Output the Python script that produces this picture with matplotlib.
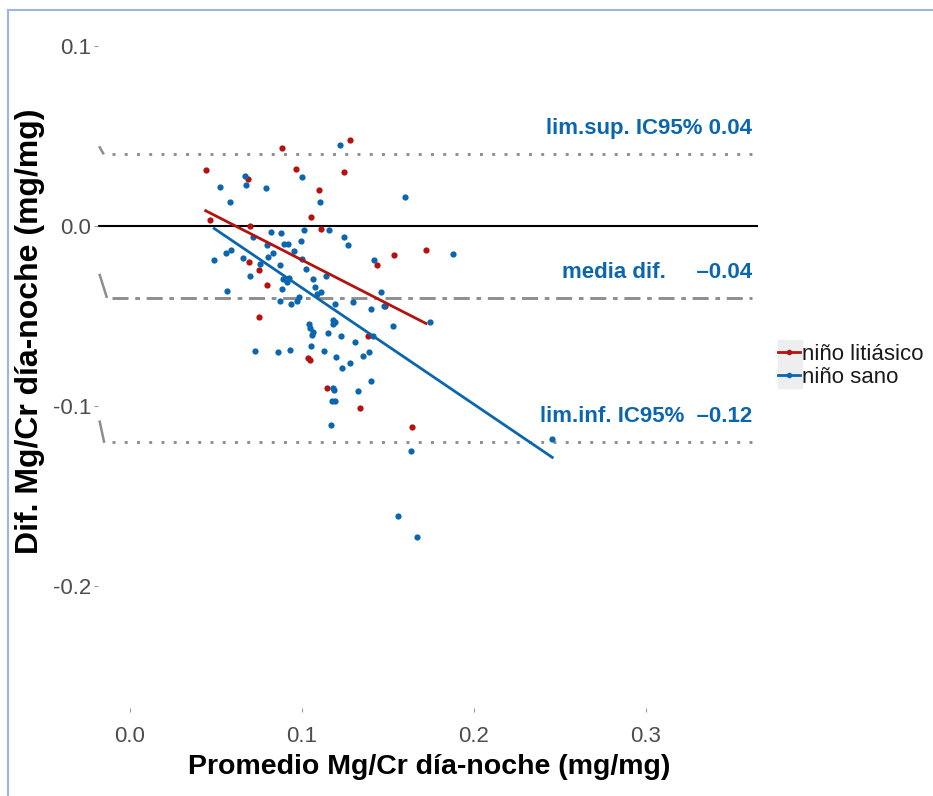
import matplotlib
matplotlib.use("Agg")
import matplotlib.pyplot as plt
import numpy as np
from matplotlib.lines import Line2D
from matplotlib.patches import Rectangle

plt.rcParams['font.family'] = ['Liberation Sans', 'DejaVu Sans']

RED = "#B5120F"
BLUE = "#0A66AE"
GREY = "#8E8E8E"

groups = ["niño litiásico", "niño sano"]

# niño litiásico: promedio (x) vs diferencia (y)
lit_x = [0.0885, 0.1279, 0.0440, 0.0688, 0.0965, 0.1244, 0.1099, 0.0467, 0.0698,
         0.1052, 0.1110, 0.0692, 0.0750, 0.0795, 0.0750, 0.1436, 0.1537, 0.1721,
         0.1481, 0.1033, 0.1048, 0.1145, 0.1339, 0.1640, 0.1384]
lit_y = [0.0432, 0.0476, 0.0311, 0.0259, 0.0317, 0.0300, 0.0200, 0.0033, 0.0000,
         0.0048, -0.0017, -0.0200, -0.0244, -0.0328, -0.0504, -0.0217, -0.0161, -0.0133,
         -0.0444, -0.0732, -0.0746, -0.0902, -0.1013, -0.1118, -0.0611]

# niño sano
sano_x = [0.1223, 0.0670, 0.0676, 0.0525, 0.0791, 0.1002, 0.0583, 0.1105, 0.1599,
          0.1012, 0.1159, 0.0715, 0.0822, 0.0880, 0.1244, 0.1269, 0.0795, 0.0897,
          0.0920, 0.0994, 0.0490, 0.0560, 0.0587, 0.0657, 0.0758, 0.0804, 0.0833,
          0.0955, 0.1002, 0.1023, 0.0874, 0.0698, 0.0888, 0.0915, 0.0926, 0.1064,
          0.1138, 0.1076, 0.0566, 0.0885, 0.1089, 0.1112, 0.1459, 0.1417, 0.0874,
          0.0938, 0.0973, 0.0983, 0.1192, 0.1298, 0.1401, 0.1477, 0.1178, 0.1744,
          0.1531, 0.1039, 0.1048, 0.1066, 0.1058, 0.1192, 0.1182, 0.1153, 0.1228,
          0.1308, 0.1413, 0.1052, 0.1128, 0.1199, 0.1234, 0.1279, 0.1355, 0.1390,
          0.0727, 0.0862, 0.0930, 0.1401, 0.1327, 0.1182, 0.1188, 0.1176, 0.1190,
          0.1170, 0.1634, 0.1560, 0.1669, 0.1880, 0.2455]
sano_y = [0.0448, 0.0278, 0.0228, 0.0217, 0.0211, 0.0272, 0.0133, 0.0133, 0.0161,
          -0.0022, -0.0022, -0.0059, -0.0033, -0.0039, -0.0061, -0.0106, -0.0106, -0.0100,
          -0.0100, -0.0083, -0.0189, -0.0150, -0.0133, -0.0178, -0.0211, -0.0172, -0.0150,
          -0.0139, -0.0183, -0.0239, -0.0217, -0.0278, -0.0294, -0.0311, -0.0289, -0.0294,
          -0.0276, -0.0337, -0.0361, -0.0350, -0.0376, -0.0367, -0.0367, -0.0189, -0.0415,
          -0.0433, -0.0418, -0.0393, -0.0433, -0.0422, -0.0459, -0.0444, -0.0522, -0.0533,
          -0.0556, -0.0543, -0.0565, -0.0589, -0.0604, -0.0533, -0.0544, -0.0594, -0.0611,
          -0.0644, -0.0611, -0.0667, -0.0694, -0.0728, -0.0787, -0.0763, -0.0722, -0.0700,
          -0.0694, -0.0700, -0.0689, -0.0863, -0.0918, -0.0902, -0.0913, -0.0974, -0.0974,
          -0.1107, -0.1252, -0.1611, -0.1728, -0.0157, -0.1185]

# linear fits per group: (intercept, slope)
fit_lit = (0.0300, -0.489)
fit_sano = (0.0303, -0.647)

# Bland-Altman limits
limit_vals = [0.04, -0.04, -0.12]
limit_styles = [(0, (1, 3.2)), (0, (5.5, 2.3, 1.6, 2.3)), (0, (1, 3.2))]
limit_labels = ["lim.sup. IC95% 0.04", "media dif.     \u20130.04", "lim.inf. IC95%  \u20130.12"]
label_y = [0.054, -0.026, -0.106]

# little hooks at the left end of each limit line
hook_x = [(-0.0176, -0.0156), (-0.0176, -0.0136), (-0.0176, -0.0151)]
hook_y = [(0.0437, 0.0404), (-0.0272, -0.0393), (-0.1087, -0.1198)]

fig = plt.figure(figsize=(9.33, 7.96), dpi=100)
ax = fig.add_axes([98 / 933, 1 - 708 / 796, 660 / 933, 696 / 796])
ax.set_xlim(-0.0186, 0.3651)
ax.set_ylim(-0.2678, 0.1189)
for s in ax.spines.values():
    s.set_visible(False)

ax.axhline(0, color="black", lw=1.5, zorder=1)
for v, ls in zip(limit_vals, limit_styles):
    ax.plot([-0.0105, 0.3616], [v, v], color=GREY, lw=2.1, linestyle=ls, zorder=1)
for hx, hy in zip(hook_x, hook_y):
    ax.plot(hx, hy, color=GREY, lw=1.8, zorder=1)
for v, txt in zip(label_y, limit_labels):
    ax.text(0.3616, v, txt, ha="right", va="center", color=BLUE,
            fontsize=16, fontweight="bold")

ax.plot(lit_x, lit_y, "o", color=RED, ms=4.5, mew=0, zorder=3)
ax.plot(sano_x, sano_y, "o", color=BLUE, ms=4.5, mew=0, zorder=3)

for xs, (a, b), c in [(lit_x, fit_lit, RED), (sano_x, fit_sano, BLUE)]:
    xx = np.linspace(min(xs), max(xs), 50)
    ax.plot(xx, a + b * xx, color=c, lw=2, zorder=4)

ax.set_xticks([0, 0.1, 0.2, 0.3])
ax.set_xticklabels(["0.0", "0.1", "0.2", "0.3"])
ax.set_yticks([0.1, 0, -0.1, -0.2])
ax.set_yticklabels(["0.1", "0.0", "-0.1", "-0.2"])
ax.tick_params(axis="both", colors="#999999", labelcolor="#4D4D4D",
               labelsize=16, length=3, width=0.8)
ax.tick_params(axis="x", pad=10)
ax.tick_params(axis="y", pad=2)

fig.text(429 / 933, 1 - 767 / 796, "Promedio Mg/Cr día-noche (mg/mg)",
         ha="center", va="center", fontsize=20.5, fontweight="bold")
fig.text(30 / 933, 1 - 331 / 796, "Dif. Mg/Cr día-noche (mg/mg)",
         ha="center", va="center", rotation=90, fontsize=23, fontweight="bold")

# legend with grey key background
fig.patches.append(Rectangle((778 / 933, 1 - 388 / 796), 24 / 933, 48 / 796,
                             transform=fig.transFigure, color="#EEEEEE", zorder=0))
handles = [Line2D([], [], color=RED, lw=2, marker="o", ms=4, mew=0),
           Line2D([], [], color=BLUE, lw=2, marker="o", ms=4, mew=0)]
fig.legend(handles, groups, loc="center left", bbox_to_anchor=(778 / 933, 1 - 366 / 796),
           frameon=False, fontsize=16, handlelength=1.0, handletextpad=0.1,
           labelspacing=0.1, borderpad=0, borderaxespad=0, labelcolor="#1A1A1A")

# outer border (left and top)
fig.add_artist(Line2D([8 / 933, 8 / 933], [0, 1 - 10 / 796], transform=fig.transFigure,
                      color="#9DB5E3", lw=1.5))
fig.add_artist(Line2D([8 / 933, 1], [1 - 10 / 796, 1 - 10 / 796], transform=fig.transFigure,
                      color="#9DB5E3", lw=1.5))

fig.savefig("out.png", dpi=100)
